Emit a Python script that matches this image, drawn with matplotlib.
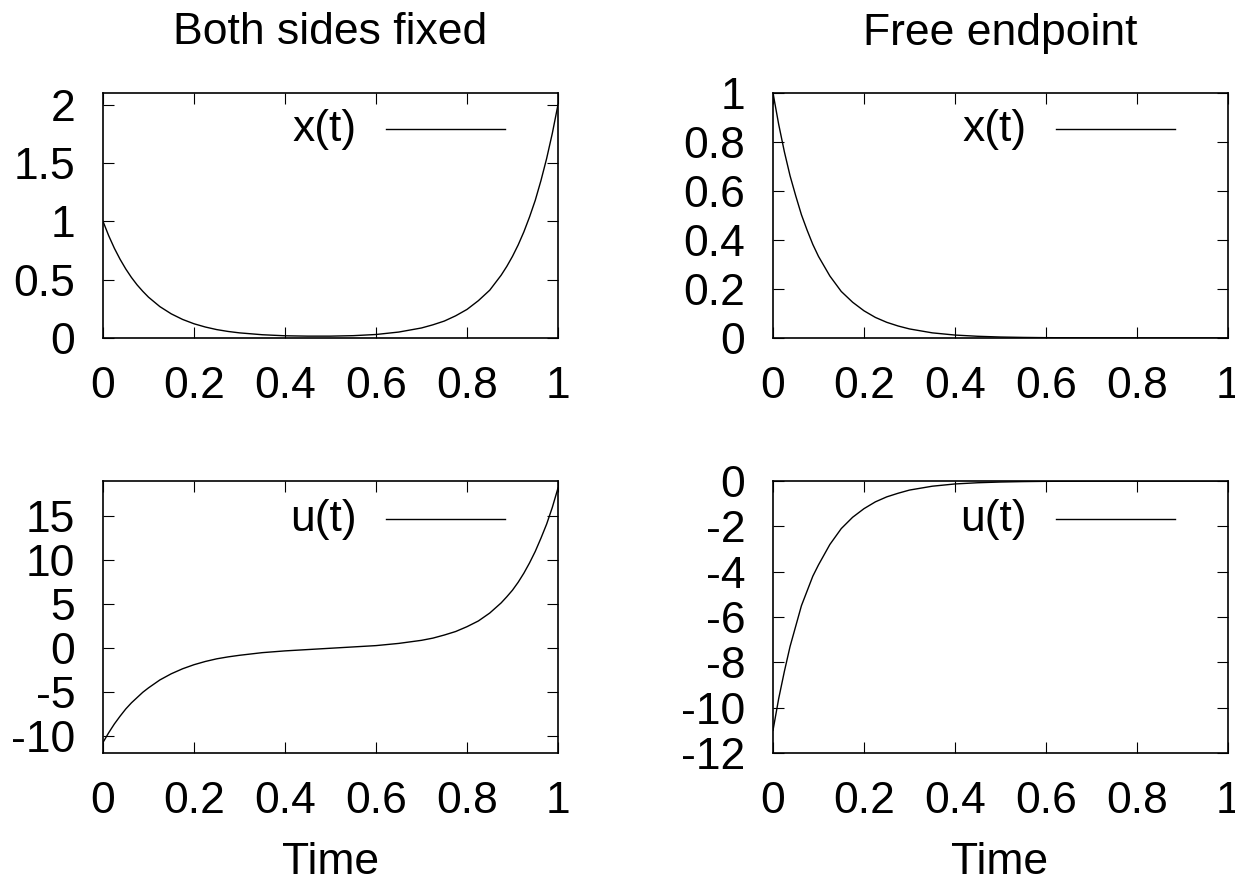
import numpy as np
import matplotlib.pyplot as plt

plt.rcParams['font.family'] = ['Liberation Sans', 'DejaVu Sans']

# time grids (denser where the curves are steep)
t_fixed = [0, 0.0125, 0.025, 0.0375, 0.05, 0.0625, 0.075, 0.0875, 0.1, 0.125, 0.15, 0.175,
           0.2, 0.225, 0.25, 0.275, 0.3, 0.35, 0.4, 0.45, 0.5, 0.55, 0.6, 0.65, 0.7, 0.725,
           0.75, 0.775, 0.8, 0.825, 0.85, 0.875, 0.8875, 0.9, 0.9125, 0.925, 0.9375, 0.95,
           0.9625, 0.975, 0.9875, 1.0]
x_fixed = [1.0, 0.877, 0.769, 0.675, 0.592, 0.519, 0.455, 0.40, 0.35, 0.269, 0.207, 0.159,
           0.122, 0.094, 0.072, 0.056, 0.044, 0.028, 0.019, 0.016, 0.016, 0.02, 0.03, 0.051,
           0.086, 0.113, 0.145, 0.19, 0.245, 0.32, 0.41, 0.538, 0.614, 0.70, 0.798, 0.91,
           1.038, 1.18, 1.349, 1.538, 1.754, 2.0]
u_fixed = [-10.7, -9.6, -8.6, -7.72, -6.9, -6.2, -5.6, -5.0, -4.5, -3.6, -2.9, -2.33,
           -1.87, -1.5, -1.2, -0.98, -0.8, -0.5, -0.3, -0.15, 0.0, 0.15, 0.3, 0.55,
           0.9, 1.15, 1.5, 1.9, 2.45, 3.1, 4.0, 5.15, 5.85, 6.6, 7.5, 8.53,
           9.7, 11.0, 12.5, 14.1, 16.0, 18.2]

t_free = [0, 0.0125, 0.025, 0.0375, 0.05, 0.0625, 0.075, 0.0875, 0.1, 0.125, 0.15, 0.175,
          0.2, 0.225, 0.25, 0.275, 0.3, 0.35, 0.4, 0.45, 0.5, 0.55, 0.6, 0.7, 0.8, 0.9, 1.0]
x_free = [1.0, 0.872, 0.76, 0.662, 0.58, 0.503, 0.44, 0.382, 0.333, 0.253, 0.19, 0.146,
          0.111, 0.084, 0.064, 0.049, 0.037, 0.021, 0.012, 0.007, 0.004, 0.0024,
          0.0014, 0.0005, 0.0002, 0.0001, 0.0]
u_free = [-11.0, -9.6, -8.4, -7.3, -6.4, -5.5, -4.85, -4.2, -3.7, -2.8, -2.1, -1.6,
          -1.22, -0.92, -0.7, -0.54, -0.4, -0.23, -0.13, -0.077, -0.045, -0.026,
          -0.015, -0.005, -0.002, -0.001, 0.0]

xticks = [0, 0.2, 0.4, 0.6, 0.8, 1]
xtick_labels = ['0', '0.2', '0.4', '0.6', '0.8', '1']

W, H = 1235, 883
fig = plt.figure(figsize=(W / 100, H / 100), dpi=100)


def px_axes(l, t, r, b):
    return fig.add_axes([l / W, 1 - b / H, (r - l) / W, (b - t) / H])


def style(ax, yticks, ylabels, ylim):
    ax.set_xlim(0, 1)
    ax.set_ylim(*ylim)
    ax.set_xticks(xticks)
    ax.set_xticklabels(xtick_labels)
    ax.set_yticks(yticks)
    ax.set_yticklabels(ylabels)
    ax.tick_params(direction='in', length=8, width=0.8, labelsize=32,
                   top=True, right=True, pad=20, color='black')
    ax.tick_params(axis='y', pad=20)
    for s in ax.spines.values():
        s.set_linewidth(1.2)


def key(ax, label, yfrac):
    ax.plot([0.622, 0.884], [yfrac, yfrac], color='black', lw=1,
            transform=ax.transAxes)
    ax.text(0.558, yfrac, label, transform=ax.transAxes, ha='right',
            va='center', fontsize=32)


ax1 = px_axes(103, 93, 558, 338)
ax1.plot(t_fixed, x_fixed, color='black', lw=1)
style(ax1, [0, 0.5, 1, 1.5, 2], ['0', '0.5', '1', '1.5', '2'], (0, 2.1))
key(ax1, 'x(t)', 0.853)

ax2 = px_axes(773, 93, 1228, 338)
ax2.plot(t_free, x_free, color='black', lw=1)
style(ax2, [0, 0.2, 0.4, 0.6, 0.8, 1], ['0', '0.2', '0.4', '0.6', '0.8', '1'], (0, 1))
key(ax2, 'x(t)', 0.853)

ax3 = px_axes(103, 481, 558, 753)
ax3.plot(t_fixed, u_fixed, color='black', lw=1)
style(ax3, [-10, -5, 0, 5, 10, 15], ['-10', '-5', '0', '5', '10', '15'], (-11.9, 19))
key(ax3, 'u(t)', 0.86)

ax4 = px_axes(773, 481, 1228, 753)
ax4.plot(t_free, u_free, color='black', lw=1)
style(ax4, [-12, -10, -8, -6, -4, -2, 0],
      ['-12', '-10', '-8', '-6', '-4', '-2', '0'], (-12, 0))
key(ax4, 'u(t)', 0.86)

fig.text(330.5 / W, 1 - 33 / H, 'Both sides fixed', ha='center', va='center', fontsize=32)
fig.text(1000 / W, 1 - 33 / H, 'Free endpoint', ha='center', va='center', fontsize=32)
fig.text(330.5 / W, 1 - 863 / H, 'Time', ha='center', va='center', fontsize=32)
fig.text(1000 / W, 1 - 863 / H, 'Time', ha='center', va='center', fontsize=32)

plt.savefig('out.png', dpi=100)
